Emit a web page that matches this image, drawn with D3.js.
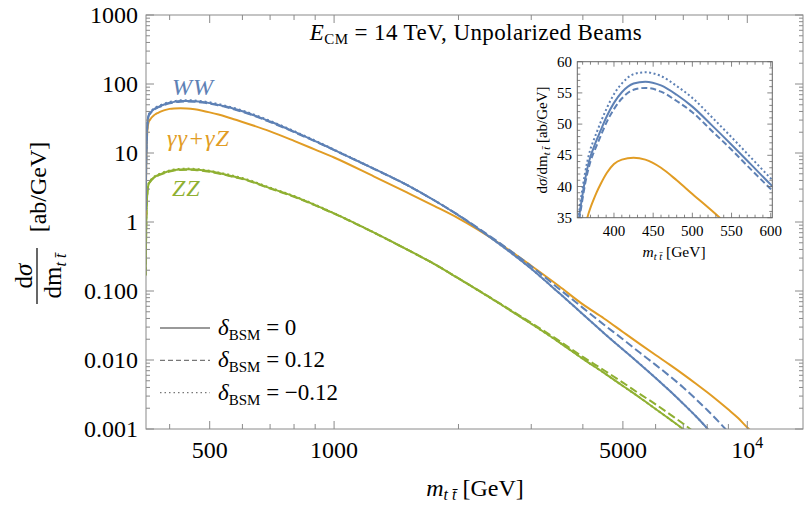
<!DOCTYPE html>
<html>
<head>
<meta charset="utf-8">
<script src="https://cdn.jsdelivr.net/npm/d3@7/dist/d3.min.js"></script>
<style>
  body { margin: 0; background: #fff; }
  svg { display: block; font-family: "Liberation Serif", "DejaVu Serif", serif; }
</style>
</head>
<body>
<svg id="chart" width="805" height="506"></svg>
<script>
// m_tt grid [GeV]
const masses = [350, 351, 352, 353, 354, 356, 358, 360, 363, 366, 370, 374, 378, 383, 391, 400, 410, 425, 440, 460, 480, 500, 525, 550, 575, 600,
    700, 800, 900, 1000, 1250, 1500, 1750, 2000, 2500, 3000, 3500, 4000, 4500, 5000, 5500, 6000, 6500, 7000, 7500, 8000, 8500, 9000, 9500, 10000, 10500];

// dσ/dm [ab/GeV]
const wwSolid = [1.5, 8, 16, 24, 29.5, 35.5, 37.2, 38.8, 41.0, 42.9, 44.8, 46.2, 47.5, 49.0, 51.3, 53.4, 55.1, 56.5, 56.8, 56.2, 54.7, 52.8, 49.8, 46.7, 43.5, 40.3,
    28.6, 20.4, 14.9, 11.1, 5.9, 3.45, 2.05, 1.25, 0.49, 0.21, 0.094, 0.046, 0.0245, 0.0142, 0.0087, 0.0055, 0.00355, 0.00232, 0.00154, 0.00102, 0.00067, 0.00043, 0.00027, 0.00016, 0.0001];
const wwDashed = [1.47, 7.86, 15.7, 23.6, 29.0, 34.9, 36.5, 38.1, 40.3, 42.1, 44.0, 45.4, 46.6, 48.1, 50.4, 52.4, 54.1, 55.5, 55.8, 55.2, 53.7, 51.9, 48.9, 45.9, 42.7, 39.6,
    28.1, 20.1, 14.7, 11.0, 5.86, 3.44, 2.05, 1.26, 0.51, 0.228, 0.108, 0.057, 0.0325, 0.020, 0.0127, 0.0085, 0.0058, 0.0040, 0.00273, 0.00188, 0.0013, 0.0009, 0.00062, 0.00042, 0.00028];
const wwDotted = [1.54, 8.2, 16.4, 24.6, 30.3, 36.4, 38.2, 39.8, 42.1, 44.0, 46.0, 47.4, 48.7, 50.3, 52.6, 54.8, 56.5, 58.0, 58.3, 57.7, 56.1, 54.2, 51.1, 47.9, 44.6, 41.3,
    29.2, 20.8, 15.1, 11.2, 5.92, 3.45, 2.05, 1.25, 0.49, 0.21, 0.094, 0.046, 0.0245, 0.0142, 0.0087, 0.0055, 0.00355, 0.00232, 0.00154, 0.00102, 0.00067, 0.00043, 0.00027, 0.00016, 0.0001];
const gzSolid = [1.2, 6.5, 13, 19.4, 23.8, 28.5, 30.0, 31.4, 33.3, 35.0, 36.6, 37.9, 39.1, 40.4, 42.2, 43.6, 44.3, 44.6, 44.3, 43.0, 41.0, 38.8, 36.1, 33.3, 30.6, 28.2,
    20.6, 15.0, 11.2, 8.6, 4.55, 2.68, 1.70, 1.13, 0.50, 0.232, 0.118, 0.064, 0.040, 0.0255, 0.017, 0.0118, 0.0085, 0.0062, 0.00457, 0.0034, 0.00254, 0.00191, 0.00144, 0.00105, 0.0008];
const zzSolid = [0.17, 0.85, 1.7, 2.5, 3.0, 3.6, 3.8, 3.97, 4.2, 4.4, 4.6, 4.75, 4.88, 5.03, 5.27, 5.48, 5.65, 5.78, 5.82, 5.76, 5.62, 5.42, 5.13, 4.82, 4.52, 4.25,
    3.1, 2.35, 1.76, 1.33, 0.70, 0.40, 0.245, 0.152, 0.067, 0.0335, 0.0182, 0.0104, 0.0065, 0.0042, 0.00284, 0.00195, 0.00138, 0.00099, 0.00069, 0.00047, 0.00032, 0.00021, 0.00014, 0.00009, 0.00006];
const zzDashed = [0.167, 0.84, 1.67, 2.46, 2.95, 3.55, 3.74, 3.91, 4.14, 4.33, 4.53, 4.68, 4.81, 4.95, 5.19, 5.40, 5.57, 5.69, 5.73, 5.67, 5.54, 5.34, 5.06, 4.75, 4.44, 4.19,
    3.06, 2.32, 1.74, 1.32, 0.697, 0.40, 0.246, 0.153, 0.068, 0.0345, 0.0191, 0.0111, 0.0071, 0.0047, 0.0032, 0.00228, 0.00163, 0.00119, 0.00086, 0.0006, 0.00042, 0.00029, 0.0002, 0.00013, 0.00009];
const zzDotted = [0.173, 0.87, 1.73, 2.55, 3.06, 3.67, 3.88, 4.05, 4.28, 4.49, 4.69, 4.85, 4.98, 5.13, 5.38, 5.59, 5.76, 5.9, 5.94, 5.88, 5.73, 5.53, 5.23, 4.92, 4.61, 4.33,
    3.15, 2.38, 1.78, 1.34, 0.703, 0.40, 0.245, 0.152, 0.067, 0.0335, 0.0182, 0.0104, 0.0065, 0.0042, 0.00284, 0.00195, 0.00138, 0.00099, 0.00069, 0.00047, 0.00032, 0.00021, 0.00014, 0.00009, 0.00006];

const yTickValues = [0.001, 0.01, 0.1, 1, 10, 100, 1000];
const yTickLabels = ['0.001', '0.010', '0.100', '1', '10', '100', '1000'];
const xTickValues = [500, 1000, 5000, 10000];
const xTickLabels = ['500', '1000', '5000', '10'];
const xMinorTicks = [400, 600, 700, 800, 900, 2000, 3000, 4000, 6000, 7000, 8000, 9000];
const insetXTicks = [400, 450, 500, 550, 600];
const insetYTicks = [35, 40, 45, 50, 55, 60];
const legendLabels = ['0', '0.12', '\u22120.12'];

const colors = { ww: '#5e81b5', gz: '#e19c24', zz: '#8fb032' };
const dashes = { solid: null, dashed: '8,3.5', dotted: '2,3' };
const axisColor = '#8a8a8a';

const svg = d3.select('#chart');

// main plot frame
const plot = { left: 146, right: 803, top: 15, bottom: 429 };
const x = d3.scaleLog().domain([350.6, 13640]).range([plot.left, plot.right]);
const y = d3.scaleLog().domain([0.001, 1000]).range([plot.bottom, plot.top]);

const series = [
    { vals: zzDotted, color: colors.zz, style: 'dotted' },
    { vals: zzDashed, color: colors.zz, style: 'dashed' },
    { vals: zzSolid, color: colors.zz, style: 'solid' },
    { vals: gzSolid, color: colors.gz, style: 'solid' },
    { vals: wwDotted, color: colors.ww, style: 'dotted' },
    { vals: wwDashed, color: colors.ww, style: 'dashed' },
    { vals: wwSolid, color: colors.ww, style: 'solid' }
];

svg.append('defs').append('clipPath').attr('id', 'plotClip')
    .append('rect')
    .attr('x', plot.left).attr('y', plot.top)
    .attr('width', plot.right - plot.left).attr('height', plot.bottom - plot.top);

const mainLine = d3.line()
    .x(d => x(d[0]))
    .y(d => y(d[1]))
    .curve(d3.curveMonotoneX);

const curves = svg.append('g').attr('clip-path', 'url(#plotClip)');
series.forEach(s => {
    curves.append('path')
        .datum(masses.map((m, i) => [m, s.vals[i]]))
        .attr('d', mainLine)
        .attr('fill', 'none')
        .attr('stroke', s.color)
        .attr('stroke-width', 2)
        .attr('stroke-dasharray', dashes[s.style]);
});

// frame + ticks (mirrored on all four sides)
svg.append('rect')
    .attr('x', plot.left).attr('y', plot.top)
    .attr('width', plot.right - plot.left).attr('height', plot.bottom - plot.top)
    .attr('fill', 'none').attr('stroke', axisColor).attr('stroke-width', 1);

const ticks = svg.append('g').attr('stroke', axisColor).attr('stroke-width', 1);
const yMinor = [];
yTickValues.slice(0, -1).forEach(v => {
    for (let k = 2; k <= 9; k++) yMinor.push(v * k);
});
yTickValues.forEach(v => {
    ticks.append('line').attr('x1', plot.left).attr('x2', plot.left + 8).attr('y1', y(v)).attr('y2', y(v));
    ticks.append('line').attr('x1', plot.right).attr('x2', plot.right - 8).attr('y1', y(v)).attr('y2', y(v));
});
yMinor.forEach(v => {
    ticks.append('line').attr('x1', plot.left).attr('x2', plot.left + 4).attr('y1', y(v)).attr('y2', y(v));
    ticks.append('line').attr('x1', plot.right).attr('x2', plot.right - 4).attr('y1', y(v)).attr('y2', y(v));
});
xTickValues.forEach(v => {
    ticks.append('line').attr('x1', x(v)).attr('x2', x(v)).attr('y1', plot.bottom).attr('y2', plot.bottom - 8);
    ticks.append('line').attr('x1', x(v)).attr('x2', x(v)).attr('y1', plot.top).attr('y2', plot.top + 8);
});
xMinorTicks.forEach(v => {
    ticks.append('line').attr('x1', x(v)).attr('x2', x(v)).attr('y1', plot.bottom).attr('y2', plot.bottom - 5);
    ticks.append('line').attr('x1', x(v)).attr('x2', x(v)).attr('y1', plot.top).attr('y2', plot.top + 5);
});

// tick labels
svg.append('g').selectAll('text')
    .data(yTickValues)
    .join('text')
    .attr('x', 138)
    .attr('y', d => y(d) + 8)
    .attr('text-anchor', 'end')
    .attr('font-size', 24)
    .text((d, i) => yTickLabels[i]);

const xLabels = svg.append('g').selectAll('text')
    .data(xTickValues)
    .join('text')
    .attr('x', d => x(d))
    .attr('y', 458)
    .attr('text-anchor', 'middle')
    .attr('font-size', 24)
    .text((d, i) => xTickLabels[i]);
xLabels.filter(d => d === 10000)
    .append('tspan').attr('dy', -10).attr('font-size', 16).text('4');

// axis titles
const xTitle = svg.append('text')
    .attr('x', 475).attr('y', 496)
    .attr('text-anchor', 'middle')
    .attr('font-size', 24);
xTitle.append('tspan').attr('font-style', 'italic').text('m');
xTitle.append('tspan').attr('font-size', 16).attr('font-style', 'italic').attr('dy', 4).text('t t\u0304');
xTitle.append('tspan').attr('dy', -4).text(' [GeV]');

const yTitle = svg.append('g').attr('transform', 'translate(37,276) rotate(-90)');
yTitle.append('line')
    .attr('x1', -28).attr('x2', 28).attr('y1', 0).attr('y2', 0)
    .attr('stroke', '#000').attr('stroke-width', 1.2);
const numer = yTitle.append('text').attr('x', 0).attr('y', -5).attr('text-anchor', 'middle').attr('font-size', 25);
numer.append('tspan').text('d');
numer.append('tspan').attr('font-style', 'italic').text('\u03c3');
const denom = yTitle.append('text').attr('x', 0).attr('y', 24).attr('text-anchor', 'middle').attr('font-size', 25);
denom.append('tspan').text('dm');
denom.append('tspan').attr('font-size', 16).attr('font-style', 'italic').attr('dy', 5).text('t t\u0304');
yTitle.append('text')
    .attr('x', 89).attr('y', 9)
    .attr('text-anchor', 'middle')
    .attr('font-size', 24)
    .text('[ab/GeV]');

// title
const title = svg.append('text')
    .attr('x', 476).attr('y', 40)
    .attr('text-anchor', 'middle')
    .attr('font-size', 23)
    .attr('letter-spacing', 0.4);
title.append('tspan').attr('font-style', 'italic').text('E');
title.append('tspan').attr('font-size', 15).attr('dy', 4).text('CM');
title.append('tspan').attr('dy', -4).text(' = 14 TeV, Unpolarized Beams');

// curve labels
const curveLabels = [
    { text: 'WW', color: colors.ww, x: 172, y: 95, size: 24 },
    { text: '\u03b3\u03b3+\u03b3Z', color: colors.gz, x: 167, y: 146, size: 24 },
    { text: 'ZZ', color: colors.zz, x: 172, y: 196, size: 24 }
];
svg.append('g').selectAll('text')
    .data(curveLabels)
    .join('text')
    .attr('x', d => d.x).attr('y', d => d.y)
    .attr('fill', d => d.color)
    .attr('font-size', d => d.size)
    .attr('letter-spacing', 1)
    .attr('font-style', 'italic')
    .text(d => d.text);

// legend
const legend = svg.append('g');
['solid', 'dashed', 'dotted'].forEach((style, i) => {
    const ly = 328 + i * 32.3;
    legend.append('line')
        .attr('x1', 160).attr('x2', 210).attr('y1', ly).attr('y2', ly)
        .attr('stroke', '#777').attr('stroke-width', 1.3)
        .attr('stroke-dasharray', style === 'dashed' ? '5,3' : style === 'dotted' ? '1.5,3' : null);
    const t = legend.append('text').attr('x', 218).attr('y', ly + 7).attr('font-size', 23);
    t.append('tspan').attr('font-style', 'italic').text('\u03b4');
    t.append('tspan').attr('font-size', 15).attr('dy', 5).text('BSM');
    t.append('tspan').attr('dy', -5).text(' = ' + legendLabels[i]);
});

// inset
const inset = { left: 577.3, right: 772.3, top: 61.7, bottom: 217.7 };
const ix = d3.scaleLinear().domain([353.2, 602]).range([inset.left, inset.right]);
const iy = d3.scaleLinear().domain([35, 60]).range([inset.bottom, inset.top]);

svg.select('defs').append('clipPath').attr('id', 'insetClip')
    .append('rect')
    .attr('x', inset.left).attr('y', inset.top)
    .attr('width', inset.right - inset.left).attr('height', inset.bottom - inset.top);

svg.append('rect')
    .attr('x', inset.left).attr('y', inset.top)
    .attr('width', inset.right - inset.left).attr('height', inset.bottom - inset.top)
    .attr('fill', '#fff');

const insetLine = d3.line()
    .x(d => ix(d[0]))
    .y(d => iy(d[1]))
    .curve(d3.curveMonotoneX);

const insetSeries = [
    { vals: gzSolid, color: colors.gz, style: 'solid' },
    { vals: wwDotted, color: colors.ww, style: 'dotted' },
    { vals: wwDashed, color: colors.ww, style: 'dashed' },
    { vals: wwSolid, color: colors.ww, style: 'solid' }
];
const insetCurves = svg.append('g').attr('clip-path', 'url(#insetClip)');
insetSeries.forEach(s => {
    insetCurves.append('path')
        .datum(masses.map((m, i) => [m, s.vals[i]]).filter(d => d[0] <= 700))
        .attr('d', insetLine)
        .attr('fill', 'none')
        .attr('stroke', s.color)
        .attr('stroke-width', 2)
        .attr('stroke-dasharray', s.style === 'dashed' ? '6,3' : s.style === 'dotted' ? '2,2.5' : null);
});

svg.append('rect')
    .attr('x', inset.left).attr('y', inset.top)
    .attr('width', inset.right - inset.left).attr('height', inset.bottom - inset.top)
    .attr('fill', 'none').attr('stroke', '#666').attr('stroke-width', 1);

const insetTicks = svg.append('g').attr('stroke', '#666').attr('stroke-width', 0.8);
for (let v = 360; v <= 600; v += 10) {
    const len = v % 50 === 0 ? 5 : 3;
    insetTicks.append('line').attr('x1', ix(v)).attr('x2', ix(v)).attr('y1', inset.bottom).attr('y2', inset.bottom - len);
    insetTicks.append('line').attr('x1', ix(v)).attr('x2', ix(v)).attr('y1', inset.top).attr('y2', inset.top + len);
}
for (let v = 35; v <= 60; v += 1) {
    const len = v % 5 === 0 ? 5 : 3;
    insetTicks.append('line').attr('x1', inset.left).attr('x2', inset.left + len).attr('y1', iy(v)).attr('y2', iy(v));
    insetTicks.append('line').attr('x1', inset.right).attr('x2', inset.right - len).attr('y1', iy(v)).attr('y2', iy(v));
}

svg.append('g').selectAll('text')
    .data(insetXTicks)
    .join('text')
    .attr('x', d => ix(d)).attr('y', 236)
    .attr('text-anchor', 'middle')
    .attr('font-size', 15)
    .text(d => d);
svg.append('g').selectAll('text')
    .data(insetYTicks)
    .join('text')
    .attr('x', 572).attr('y', d => iy(d) + 5)
    .attr('text-anchor', 'end')
    .attr('font-size', 15)
    .text(d => d);

const ixTitle = svg.append('text')
    .attr('x', 674).attr('y', 257)
    .attr('text-anchor', 'middle')
    .attr('font-size', 15.5);
ixTitle.append('tspan').attr('font-style', 'italic').text('m');
ixTitle.append('tspan').attr('font-size', 10.5).attr('font-style', 'italic').attr('dy', 3).text('t t\u0304');
ixTitle.append('tspan').attr('dy', -3).text(' [GeV]');

const iyTitle = svg.append('text')
    .attr('transform', 'translate(547,140) rotate(-90)')
    .attr('text-anchor', 'middle')
    .attr('font-size', 15);
iyTitle.append('tspan').text('d');
iyTitle.append('tspan').attr('font-style', 'italic').text('\u03c3');
iyTitle.append('tspan').text('/dm');
iyTitle.append('tspan').attr('font-size', 10.5).attr('font-style', 'italic').attr('dy', 3).text('t t\u0304');
iyTitle.append('tspan').attr('dy', -3).text(' [ab/GeV]');
</script>
</body>
</html>
